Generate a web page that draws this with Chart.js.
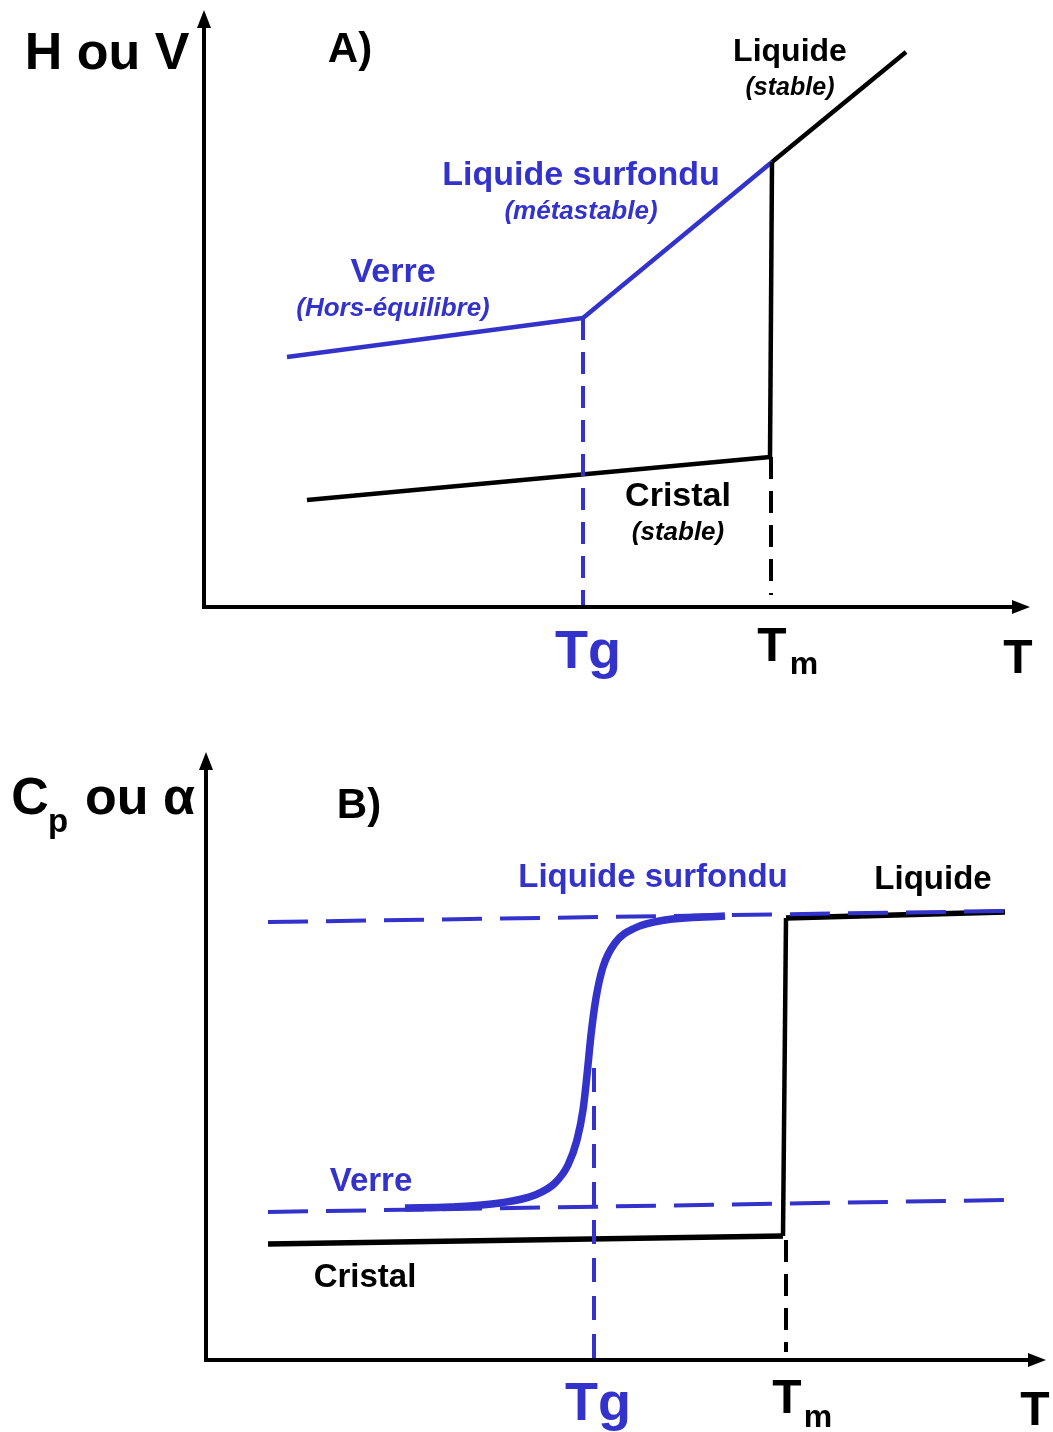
<!DOCTYPE html>
<html>
<head>
<meta charset="utf-8">
<script src="https://cdn.jsdelivr.net/npm/chart.js@4"></script>
<style>
  body { margin: 0; background: #fff; }
  canvas { display: block; }
</style>
</head>
<body>
<canvas id="chartA" width="1053" height="720"></canvas>
<canvas id="chartB" width="1053" height="712"></canvas>
<script>
// values in axis units measured from each panel's origin (T to the right, H/V or Cp up)
const BLUE = "#3333cc";
const BLACK = "#000";

// panel A : H ou V vs T
const glassA = [{x: 83, y: 250}, {x: 379, y: 289}];
const supercooledA = [{x: 379, y: 289}, {x: 568, y: 445}];
const liquidA = [{x: 568, y: 445}, {x: 702, y: 555}];
const meltA = [{x: 568, y: 445}, {x: 566, y: 150}];
const crystalA = [{x: 103, y: 107}, {x: 566, y: 150}];
const tgDropA = [{x: 379, y: 289}, {x: 379, y: 2}];
const tmDropA = [{x: 567, y: 150}, {x: 567, y: 12}];

// panel B : Cp ou alpha vs T
const liquidLevelB = [{x: 62, y: 438}, {x: 799, y: 449}];
const glassLevelB = [{x: 62, y: 148}, {x: 799, y: 160}];
const transitionB = [
  {x: 199, y: 152}, {x: 244, y: 153}, {x: 294, y: 157}, {x: 329, y: 165},
  {x: 349, y: 177}, {x: 362, y: 195}, {x: 371, y: 220}, {x: 377, y: 250},
  {x: 381, y: 285}, {x: 385, y: 325}, {x: 390, y: 362}, {x: 397, y: 393},
  {x: 409, y: 417}, {x: 429, y: 432}, {x: 459, y: 440}, {x: 519, y: 444}
];
const crystalB = [{x: 62, y: 116}, {x: 577, y: 124}];
const meltB = [{x: 577, y: 124}, {x: 580, y: 442}];
const liquidB = [{x: 580, y: 442}, {x: 799, y: 448}];
const tgDropB = [{x: 388, y: 292}, {x: 388, y: 2}];
const tmDropB = [{x: 580, y: 120}, {x: 580, y: 8}];

const labelsA = [
  {text: "H ou V", x: -97, y: 552, size: 52, color: BLACK},
  {text: "A)", x: 146, y: 557, size: 42, color: BLACK},
  {text: "Liquide", x: 586, y: 555, size: 32, color: BLACK},
  {text: "(stable)", x: 586, y: 519, size: 25, color: BLACK, italic: true},
  {text: "Liquide surfondu", x: 377, y: 431, size: 34, color: BLUE},
  {text: "(métastable)", x: 377, y: 395, size: 26, color: BLUE, italic: true},
  {text: "Verre", x: 189, y: 334, size: 34, color: BLUE},
  {text: "(Hors-équilibre)", x: 189, y: 298, size: 26, color: BLUE, italic: true},
  {text: "Cristal", x: 474, y: 110, size: 34, color: BLACK},
  {text: "(stable)", x: 474, y: 74, size: 26, color: BLACK, italic: true},
  {text: "Tg", x: 384, y: -46, size: 54, color: BLUE},
  {text: "T", x: 568, y: -41, size: 48, color: BLACK},
  {text: "m", x: 600, y: -58, size: 32, color: BLACK},
  {text: "T", x: 814, y: -53, size: 48, color: BLACK}
];

const labelsB = [
  {text: "C", x: -176, y: 560, size: 52, color: BLACK},
  {text: "p", x: -148, y: 537, size: 33, color: BLACK},
  {text: "ou α", x: -66, y: 560, size: 52, color: BLACK},
  {text: "B)", x: 153, y: 554, size: 42, color: BLACK},
  {text: "Liquide surfondu", x: 447, y: 482, size: 33, color: BLUE},
  {text: "Liquide", x: 727, y: 480, size: 33, color: BLACK},
  {text: "Verre", x: 165, y: 178, size: 33, color: BLUE},
  {text: "Cristal", x: 159, y: 82, size: 33, color: BLACK},
  {text: "Tg", x: 392, y: -45, size: 54, color: BLUE},
  {text: "T", x: 581, y: -40, size: 48, color: BLACK},
  {text: "m", x: 612, y: -58, size: 32, color: BLACK},
  {text: "T", x: 829, y: -52, size: 48, color: BLACK}
];

function line(data, color, width, dash) {
  return {
    data: data,
    borderColor: color,
    borderWidth: width,
    borderDash: dash || [],
    pointRadius: 0,
    fill: false,
    borderCapStyle: "butt",
    borderJoinStyle: "miter"
  };
}

// axes with arrow heads + text labels
const diagramPlugin = {
  id: "diagram",
  beforeDatasetsDraw(chart, args, opts) {
    const c = chart.ctx, xs = chart.scales.x, ys = chart.scales.y;
    const ox = xs.getPixelForValue(0), oy = ys.getPixelForValue(0);
    const xt = xs.getPixelForValue(opts.xEnd), yt = ys.getPixelForValue(opts.yEnd);
    c.save();
    c.strokeStyle = BLACK;
    c.fillStyle = BLACK;
    c.lineWidth = 4;
    c.beginPath();
    c.moveTo(ox, oy + 2);
    c.lineTo(ox, yt + 12);
    c.moveTo(ox - 2, oy);
    c.lineTo(xt - 12, oy);
    c.stroke();
    c.beginPath();
    c.moveTo(ox, yt);
    c.lineTo(ox - 7, yt + 18);
    c.lineTo(ox + 7, yt + 18);
    c.closePath();
    c.fill();
    c.beginPath();
    c.moveTo(xt, oy);
    c.lineTo(xt - 18, oy - 7);
    c.lineTo(xt - 18, oy + 7);
    c.closePath();
    c.fill();
    c.restore();
  },
  afterDatasetsDraw(chart, args, opts) {
    const c = chart.ctx, xs = chart.scales.x, ys = chart.scales.y;
    c.save();
    c.textAlign = "center";
    c.textBaseline = "middle";
    opts.labels.forEach(l => {
      c.font = (l.italic ? "italic " : "") + "bold " + l.size + "px 'Liberation Sans', Arial, sans-serif";
      c.fillStyle = l.color;
      c.fillText(l.text, xs.getPixelForValue(l.x), ys.getPixelForValue(l.y));
    });
    c.restore();
  }
};

function makeChart(id, originX, originY, height, datasets, labels, xEnd, yEnd) {
  return new Chart(document.getElementById(id), {
    type: "line",
    data: {datasets: datasets},
    plugins: [diagramPlugin],
    options: {
      responsive: false,
      animation: false,
      layout: {padding: 0},
      scales: {
        x: {type: "linear", min: -originX, max: 1053 - originX, display: false},
        y: {type: "linear", min: originY - height, max: originY, display: false}
      },
      plugins: {
        legend: {display: false},
        tooltip: {enabled: false},
        diagram: {labels: labels, xEnd: xEnd, yEnd: yEnd}
      }
    }
  });
}

makeChart("chartA", 204, 607, 720, [
  line(tgDropA, BLUE, 4, [22, 12]),
  line(tmDropA, BLACK, 4, [22, 12]),
  line(crystalA, BLACK, 4.5),
  line(meltA, BLACK, 4.5),
  line(liquidA, BLACK, 4.5),
  line(glassA, BLUE, 4.5),
  line(supercooledA, BLUE, 4.5)
], labelsA, 826, 597);

makeChart("chartB", 206, 640, 712, [
  line(tgDropB, BLUE, 4, [24, 14]),
  line(tmDropB, BLACK, 4, [22, 12]),
  line(liquidLevelB, BLUE, 4, [40, 18]),
  line(glassLevelB, BLUE, 4, [40, 18]),
  Object.assign(line(transitionB, BLUE, 7.5), {cubicInterpolationMode: "monotone"}),
  line(crystalB, BLACK, 5.5),
  line(meltB, BLACK, 4.5),
  line(liquidB, BLACK, 5.5)
], labelsB, 840, 608);
</script>
</body>
</html>
